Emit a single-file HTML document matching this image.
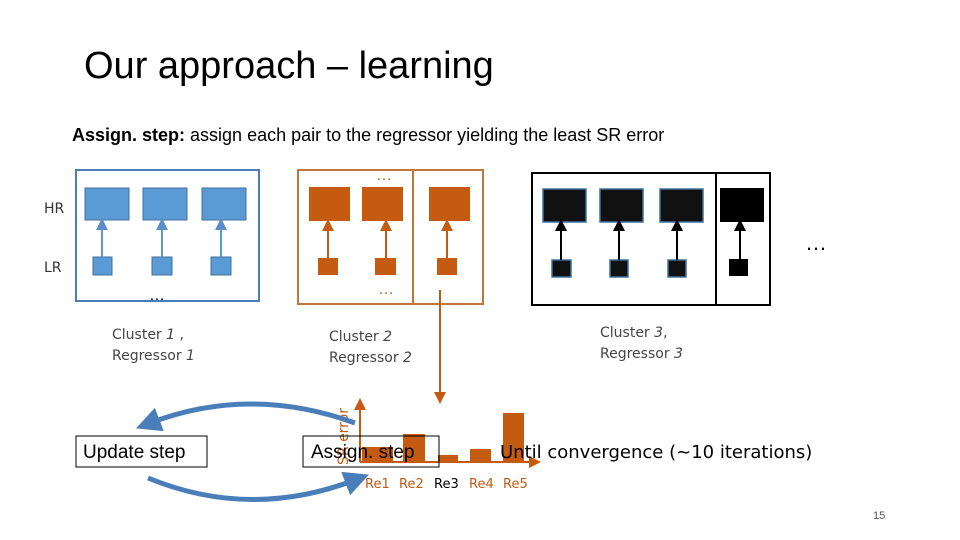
<!DOCTYPE html>
<html><head><style>
body{margin:0;background:#fff;}
svg{display:block;font-family:"Liberation Sans",sans-serif;}
</style></head><body>
<svg width="960" height="540" viewBox="0 0 960 540" xmlns="http://www.w3.org/2000/svg">
<defs>
<marker id="ab" markerWidth="6" markerHeight="6" refX="3" refY="3" orient="auto"><path d="M0,0 L6,3 L0,6z" fill="#5b8ec8"/></marker>
<marker id="ao" markerWidth="6" markerHeight="6" refX="3" refY="3" orient="auto"><path d="M0,0 L6,3 L0,6z" fill="#c55a11"/></marker>
<marker id="ak" markerWidth="6" markerHeight="6" refX="3" refY="3" orient="auto"><path d="M0,0 L6,3 L0,6z" fill="#000"/></marker>
<marker id="bl" markerWidth="5" markerHeight="5" refX="2" refY="2.5" orient="auto"><path d="M0,0 L5,2.5 L0,5z" fill="#4a7eb9"/></marker>
</defs>
<text x="84" y="78" font-size="38" fill="#000">Our approach – learning</text>
<text x="72" y="141" font-size="18"><tspan font-weight="bold">Assign. step:</tspan> assign each pair to the regressor yielding the least SR error</text>
<text x="44" y="213" font-size="14" font-family="DejaVu Sans" fill="#333">HR</text>
<text x="44" y="272" font-size="14" font-family="DejaVu Sans" fill="#333">LR</text>
<!-- blue cluster -->
<rect x="76" y="170" width="183" height="131" fill="none" stroke="#4a7eb9" stroke-width="2"/>
<g fill="#5b9bd5" stroke="#41719c" stroke-width="1">
<rect x="85" y="188" width="44" height="32"/><rect x="143" y="188" width="44" height="32"/><rect x="202" y="188" width="44" height="32"/>
<rect x="93" y="257" width="19" height="18"/><rect x="152" y="257" width="20" height="18"/><rect x="211" y="257" width="20" height="18"/>
</g>
<g stroke="#5b9bd5" stroke-width="2" marker-end="url(#ab)">
<line x1="102" y1="257" x2="102" y2="224"/><line x1="162" y1="257" x2="162" y2="224"/><line x1="221" y1="257" x2="221" y2="224"/>
</g>
<text x="149" y="300" font-size="16">…</text>
<!-- orange cluster -->
<rect x="298" y="170" width="185" height="134" fill="none" stroke="#c0773a" stroke-width="2"/>
<line x1="413" y1="170" x2="413" y2="304" stroke="#c0773a" stroke-width="2"/>
<g fill="#c55a11">
<rect x="309" y="187" width="41" height="34"/><rect x="362" y="187" width="41" height="34"/><rect x="429" y="187" width="41" height="34"/>
<rect x="318" y="258" width="20" height="17"/><rect x="375" y="258" width="21" height="17"/><rect x="437" y="258" width="20" height="17"/>
</g>
<g stroke="#c55a11" stroke-width="2" marker-end="url(#ao)">
<line x1="328" y1="258" x2="328" y2="225"/><line x1="386" y1="258" x2="386" y2="225"/><line x1="447" y1="258" x2="447" y2="225"/>
</g>
<text x="376" y="180" font-size="16" fill="#c55a11">…</text>
<text x="378" y="294" font-size="16" fill="#c55a11">…</text>
<line x1="440" y1="290" x2="440" y2="398" stroke="#c55a11" stroke-width="2" marker-end="url(#ao)"/>
<!-- black cluster -->
<rect x="532" y="173" width="238" height="132" fill="none" stroke="#000" stroke-width="2"/>
<line x1="716" y1="173" x2="716" y2="305" stroke="#000" stroke-width="2"/>
<g fill="#111" stroke="#41719c" stroke-width="1.5">
<rect x="543" y="189" width="43" height="33"/><rect x="600" y="189" width="43" height="33"/><rect x="660" y="189" width="43" height="33"/>
<rect x="552" y="260" width="19" height="17"/><rect x="610" y="260" width="18" height="17"/><rect x="668" y="260" width="18" height="17"/>
</g>
<rect x="720" y="188" width="44" height="34" fill="#000"/>
<rect x="729" y="259" width="19" height="17" fill="#000"/>
<g stroke="#000" stroke-width="2" marker-end="url(#ak)">
<line x1="561" y1="260" x2="561" y2="225"/><line x1="619" y1="260" x2="619" y2="225"/><line x1="677" y1="260" x2="677" y2="225"/><line x1="740" y1="259" x2="740" y2="225"/>
</g>
<text x="610" y="306" font-size="16">…</text>
<text x="805" y="250" font-size="22">…</text>
<!-- cluster labels -->
<g font-family="DejaVu Sans" font-size="14" fill="#444">
<text x="112" y="339">Cluster <tspan font-style="italic">1</tspan> ,</text>
<text x="112" y="360">Regressor <tspan font-style="italic">1</tspan></text>
<text x="329" y="341">Cluster <tspan font-style="italic">2</tspan></text>
<text x="329" y="362">Regressor <tspan font-style="italic">2</tspan></text>
<text x="600" y="337">Cluster <tspan font-style="italic">3</tspan>,</text>
<text x="600" y="358">Regressor <tspan font-style="italic">3</tspan></text>
</g>
<!-- chart -->
<g fill="#c55a11">
<rect x="362" y="447" width="31" height="15"/><rect x="403" y="434" width="22" height="28"/><rect x="438" y="455" width="20" height="7"/><rect x="470" y="449" width="21" height="13"/><rect x="503" y="413" width="21" height="49"/>
</g>
<line x1="360" y1="462" x2="360" y2="404" stroke="#c55a11" stroke-width="2" marker-end="url(#ao)"/>
<line x1="360" y1="462" x2="535" y2="462" stroke="#c55a11" stroke-width="2" marker-end="url(#ao)"/>
<text transform="translate(348,465) rotate(-90)" font-size="14" font-family="DejaVu Sans" fill="#c55a11">SR error</text>
<g font-family="DejaVu Sans" font-size="13" fill="#c55a11">
<text x="365" y="488">Re1</text><text x="399" y="488">Re2</text><text x="434" y="488" fill="#000">Re3</text><text x="469" y="488">Re4</text><text x="503" y="488">Re5</text>
</g>
<!-- steps -->
<rect x="76" y="436" width="131" height="31" fill="none" stroke="#000" stroke-width="1"/>
<text x="83" y="458" font-size="19">Update step</text>
<rect x="303" y="436" width="136" height="31" fill="none" stroke="#000" stroke-width="1"/>
<text x="311" y="458" font-size="19">Assign. step</text>
<text x="500" y="458" font-size="18" font-family="DejaVu Sans">Until convergence (~10 iterations)</text>
<path d="M355,423 Q250,385 150,423" fill="none" stroke="#4a7eb9" stroke-width="5" marker-end="url(#bl)"/>
<path d="M148,478 Q250,520 355,480" fill="none" stroke="#4a7eb9" stroke-width="5" marker-end="url(#bl)"/>
<text x="873" y="519" font-size="11" fill="#555">15</text>
</svg>
</body></html>
